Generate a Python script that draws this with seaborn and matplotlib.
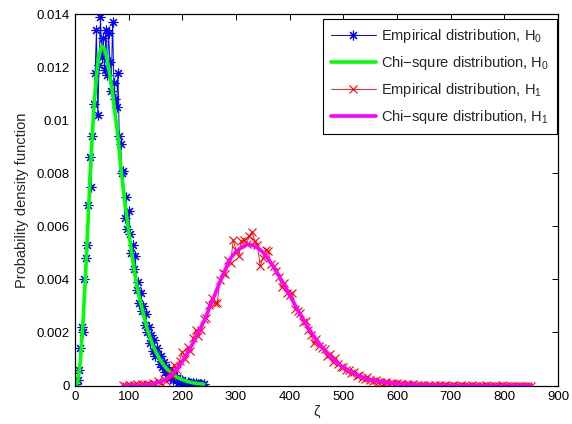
import matplotlib
matplotlib.use("Agg")
import matplotlib.pyplot as plt
import seaborn as sns
import pandas as pd

# ---------------- data ----------------
h0_emp_x = [2.5, 5, 7.5, 10, 12.5, 15, 17.5, 20, 22.5, 25, 27.5, 30, 32.5, 35, 37.5, 40,
            42.5, 45, 47.5, 50, 52.5, 55, 57.5, 60, 62.5, 65, 67.5, 70, 72.5, 75, 77.5, 80,
            82.5, 85, 87.5, 90, 92.5, 95, 97.5, 100, 102.5, 105, 107.5, 110, 112.5, 115,
            117.5, 120, 122.5, 125, 127.5, 130, 132.5, 135, 137.5, 140, 142.5, 145, 147.5,
            150, 152.5, 155, 157.5, 160, 162.5, 165, 167.5, 170, 172.5, 175, 177.5, 180,
            182.5, 185, 187.5, 190, 192.5, 195, 197.5, 200, 202.5, 205, 207.5, 210, 212.5,
            215, 217.5, 220, 222.5, 225, 227.5, 230, 232.5, 235, 237.5, 240]
h0_emp_y = [0.00005, 0.0002, 0.0006, 0.0014, 0.0022, 0.0020, 0.0040, 0.0048, 0.0053, 0.0068,
            0.0086, 0.0075, 0.0094, 0.0106, 0.0118, 0.0134, 0.0102, 0.0121, 0.0139, 0.0124,
            0.0131, 0.0119, 0.0134, 0.0117, 0.0133, 0.0122, 0.0111, 0.0137, 0.0114, 0.0108,
            0.0105, 0.0118, 0.0094, 0.0091, 0.0080, 0.0081, 0.0063, 0.0071, 0.0059, 0.0066,
            0.0057, 0.0050, 0.0053, 0.0044, 0.0049, 0.0036, 0.0039, 0.0031, 0.0035, 0.0028,
            0.0030, 0.0023, 0.0027, 0.0020, 0.0022, 0.0016, 0.0019, 0.0013, 0.0017, 0.0011,
            0.0014, 0.0012, 0.0008, 0.0011, 0.0007, 0.0009, 0.0005, 0.0007, 0.0004, 0.0006,
            0.0003, 0.0005, 0.0002, 0.0004, 0.0002, 0.0003, 0.0001, 0.0002, 0.00005, 0.0002,
            0.0001, 0.00015, 0.00005, 0.00012, 0.00008, 0.0001, 0.00003, 0.0001, 0.00006,
            0.00008, 0.00002, 0.00007, 0.00004, 0.00006, 0.00002, 0.00004]

h0_chi_x = [0, 5, 10, 15, 20, 25, 30, 35, 40, 45, 50, 55, 60, 65, 70, 75, 80, 85, 90, 95,
            100, 105, 110, 115, 120, 125, 130, 135, 140, 145, 150, 155, 160, 170, 180, 190,
            200, 210, 220, 230, 240]
h0_chi_y = [0.0, 0.0001, 0.0009, 0.0024, 0.0043, 0.0065, 0.0086, 0.0104, 0.0117, 0.0125,
            0.0128, 0.0127, 0.0123, 0.0117, 0.0110, 0.0102, 0.0094, 0.0083, 0.0074, 0.0066,
            0.0058, 0.0051, 0.0044, 0.0038, 0.0033, 0.0029, 0.0025, 0.0021, 0.0018, 0.0015,
            0.0013, 0.0011, 0.00092, 0.00065, 0.00045, 0.00031, 0.00022, 0.00015, 0.0001,
            0.00007, 0.00005]

h1_emp_x = [90, 95, 100, 105, 110, 115, 120, 125, 130, 135, 140, 145, 150, 155, 160, 165,
            170, 175, 180, 185, 190, 195, 200, 205, 210, 215, 220, 225, 230, 235, 240, 245,
            250, 255, 260, 265, 270, 275, 280, 285, 290, 295, 300, 305, 310, 315, 320, 325,
            330, 335, 340, 345, 350, 355, 360, 365, 370, 375, 380, 385, 390, 395, 400, 405,
            410, 415, 420, 425, 430, 435, 440, 445, 450, 455, 460, 465, 470, 475, 480, 485,
            490, 495, 500, 505, 510, 515, 520, 525, 530, 535, 540, 545, 550, 555, 560, 565,
            570, 575, 580, 585, 590, 595, 600, 605, 610, 615, 620, 625, 630, 635, 640, 645,
            650, 655, 660, 665, 670, 675, 680, 685, 690, 695, 700, 705, 710, 715, 720, 725,
            730, 735, 740, 745, 750, 755, 760, 765, 770, 775, 780, 785, 790, 795, 800, 805,
            810, 815, 820, 825, 830, 835, 840, 845, 850]
h1_emp_y = [0.00002, 0.0, 0.00003, 0.0, 0.00002, 0.00004, 0.0, 0.00005, 0.00001, 0.00006,
            0.00003, 0.0001, 0.00005, 0.00016, 0.0001, 0.00026, 0.00018, 0.00042, 0.00035,
            0.00078, 0.00058, 0.00092, 0.00128, 0.00101, 0.00145, 0.00132, 0.00178, 0.0021,
            0.00188, 0.0021, 0.00252, 0.00254, 0.00305, 0.0033, 0.0031, 0.0031, 0.00398,
            0.00425, 0.0042, 0.00472, 0.00462, 0.0055, 0.0051, 0.00487, 0.00545, 0.0055,
            0.00535, 0.00565, 0.0058, 0.00545, 0.0053, 0.0045, 0.0048, 0.00512, 0.00506,
            0.00458, 0.0045, 0.0043, 0.0041, 0.0037, 0.00385, 0.0035, 0.0034, 0.0035, 0.0029,
            0.0028, 0.00275, 0.0024, 0.00245, 0.0021, 0.0019, 0.0016, 0.00175, 0.0015, 0.0014,
            0.00138, 0.0011, 0.0012, 0.0009, 0.00103, 0.0008, 0.0007, 0.0007, 0.00058, 0.0006,
            0.00048, 0.0005, 0.00035, 0.0004, 0.0003, 0.00025, 0.00033, 0.0002, 0.00018,
            0.0002, 0.00012, 0.00015, 0.0001, 0.00012, 0.00007, 0.0001, 0.00005, 0.00008,
            0.00004, 0.00006, 0.00002, 0.00005, 0.00003, 0.00004, 0.0, 0.00003, 0.00001,
            0.00002, 0.0, 0.00002, 0.0, 0.00001, 0.0, 0.00002, 0.0, 0.00001, 0.0, 0.0,
            0.00001, 0.0, 0.0, 0.00001, 0.0, 0.0, 0.0, 0.00001, 0.0, 0.0, 0.0, 0.0, 0.00001,
            0.0, 0.0, 0.0, 0.0, 0.0, 0.00001, 0.0, 0.0, 0.0, 0.0, 0.0, 0.0, 0.0, 0.0, 0.0,
            0.0, 0.0]

h1_chi_x = [90, 100, 110, 120, 130, 140, 150, 160, 170, 180, 190, 200, 210, 220, 230, 240,
            250, 260, 270, 280, 290, 300, 310, 320, 330, 340, 350, 360, 370, 380, 390, 400,
            410, 420, 430, 440, 450, 460, 470, 480, 490, 500, 510, 520, 530, 540, 550, 560,
            570, 580, 590, 600, 620, 640, 660, 680, 700, 750, 800, 850]
h1_chi_y = [0.0, 0.0, 0.00001, 0.00001, 0.00002, 0.00004, 0.00008, 0.00014, 0.00024, 0.0004,
            0.00062, 0.0009, 0.00123, 0.0016, 0.002, 0.00241, 0.0029, 0.0034, 0.0039, 0.00437,
            0.0048, 0.00505, 0.0052, 0.00531, 0.0053, 0.0052, 0.00503, 0.00478, 0.00447,
            0.00414, 0.00378, 0.00341, 0.00304, 0.00267, 0.00233, 0.00201, 0.00172, 0.00145,
            0.00122, 0.00101, 0.00083, 0.00068, 0.00056, 0.00045, 0.00036, 0.00028, 0.00022,
            0.00018, 0.00014, 0.00011, 0.00008, 0.00006, 0.00004, 0.00002, 0.00001, 0.00001,
            0.0, 0.0, 0.0, 0.0]

labels = ["Empirical distribution, H$_0$", "Chi\u2212squre distribution, H$_0$",
          "Empirical distribution, H$_1$", "Chi\u2212squre distribution, H$_1$"]
x_ticks = [0, 100, 200, 300, 400, 500, 600, 700, 800, 900]
y_ticks = [0, 0.002, 0.004, 0.006, 0.008, 0.01, 0.012, 0.014]
y_tick_labels = ["0", "0.002", "0.004", "0.006", "0.008", "0.01", "0.012", "0.014"]

# ---------------- style ----------------
sns.set_theme(style="white")
plt.rcParams["font.family"] = ["Liberation Sans", "DejaVu Sans"]
plt.rcParams["mathtext.fontset"] = "custom"
plt.rcParams["mathtext.rm"] = "Liberation Sans"
plt.rcParams["mathtext.it"] = "Liberation Sans"
plt.rcParams["mathtext.default"] = "regular"

fig = plt.figure(figsize=(5.72, 4.24), dpi=100)
ax = fig.add_axes([0.1311, 0.0908, 0.8444, 0.8755])

asterisk = (8, 2, 0)
sns.lineplot(x=h0_emp_x, y=h0_emp_y, ax=ax, color="#0000ff", linewidth=0.7,
             marker=asterisk, markersize=7, markeredgewidth=0.8,
             markeredgecolor="#0000ff", markerfacecolor="none",
             sort=False, estimator=None, label=labels[0])
sns.lineplot(x=h0_chi_x, y=h0_chi_y, ax=ax, color="#00ff00", linewidth=2.6,
             sort=False, estimator=None, label=labels[1])
sns.lineplot(x=h1_emp_x, y=h1_emp_y, ax=ax, color="#ff0000", linewidth=0.6,
             marker="x", markersize=5.5, markeredgewidth=0.8,
             markeredgecolor="#ff0000", markerfacecolor="none",
             sort=False, estimator=None, label=labels[2])
sns.lineplot(x=h1_chi_x, y=h1_chi_y, ax=ax, color="#ff00ff", linewidth=2.6,
             sort=False, estimator=None, label=labels[3])

ax.set_xlim(0, 900)
ax.set_ylim(0, 0.014)
ax.set_xticks(x_ticks)
ax.set_xticklabels([str(t) for t in x_ticks])
ax.set_yticks(y_ticks)
ax.set_yticklabels(y_tick_labels)
ax.tick_params(direction="in", length=4, width=0.7, top=True, right=True,
               labelsize=9.5, colors="black", pad=4)
for sp in ax.spines.values():
    sp.set_visible(True)
    sp.set_color("black")
    sp.set_linewidth(0.9)

ax.set_xlabel("\u03b6", fontsize=10.5, labelpad=1)
ax.set_ylabel("Probability density function", fontsize=10.5, labelpad=5)

leg = ax.legend(loc="upper right", bbox_to_anchor=(0.998, 0.987),
                fontsize=10.5, frameon=True, fancybox=False,
                edgecolor="black", framealpha=1, borderaxespad=0.0,
                handlelength=3.1, handletextpad=0.35, labelspacing=0.62,
                borderpad=0.55, numpoints=1)
leg.get_frame().set_linewidth(0.8)

fig.savefig("out.png", dpi=100)
